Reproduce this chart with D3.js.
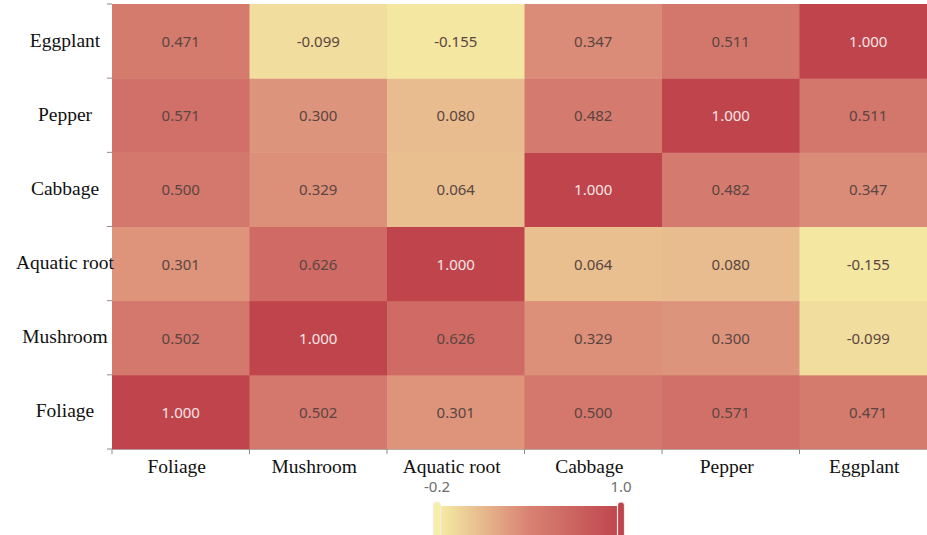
<!DOCTYPE html>
<html><head><meta charset="utf-8">
<script src="https://cdn.jsdelivr.net/npm/d3@7"></script>
<style>html,body{margin:0;padding:0;background:#fff;overflow:hidden}</style>
</head><body>
<svg id="chart" width="927" height="535"></svg>
<script>
const categories = ["Foliage", "Mushroom", "Aquatic root", "Cabbage", "Pepper", "Eggplant"];
const rowFoliage     = [1.000, 0.502, 0.301, 0.500, 0.571, 0.471];
const rowMushroom    = [0.502, 1.000, 0.626, 0.329, 0.300, -0.099];
const rowAquaticRoot = [0.301, 0.626, 1.000, 0.064, 0.080, -0.155];
const rowCabbage     = [0.500, 0.329, 0.064, 1.000, 0.482, 0.347];
const rowPepper      = [0.571, 0.300, 0.080, 0.482, 1.000, 0.511];
const rowEggplant    = [0.471, -0.099, -0.155, 0.347, 0.511, 1.000];
const rows = [rowFoliage, rowMushroom, rowAquaticRoot, rowCabbage, rowPepper, rowEggplant];
const colorStops = ["#f6efa6", "#d88273", "#bf444c"];
const colorMin = -0.2, colorMax = 1.0;
const colorLabels = ["-0.2", "1.0"];

const svg = d3.select("#chart");
const plotLeft = 112, plotRight = 937, plotTop = 4, plotBottom = 449;
const fmt = d3.formatLocale({decimal: ".", thousands: ",", grouping: [3], currency: ["", ""], minus: "-"}).format(".3f");

const x = d3.scaleBand().domain(categories).range([plotLeft, plotRight]);
const y = d3.scaleBand().domain(categories).range([plotBottom, plotTop]);
const color = d3.scaleLinear().domain([colorMin, (colorMin + colorMax) / 2, colorMax]).range(colorStops).interpolate(d3.interpolateRgb);

const cells = [];
rows.forEach((r, i) => r.forEach((v, j) => cells.push({row: categories[i], col: categories[j], v})));

const g = svg.append("g");
g.selectAll("rect.cell").data(cells).join("rect").attr("class", "cell")
  .attr("x", d => x(d.col)).attr("y", d => y(d.row))
  .attr("width", x.bandwidth() + 0.5).attr("height", y.bandwidth() + 0.5)
  .attr("fill", d => color(d.v));

g.selectAll("text.val").data(cells).join("text").attr("class", "val")
  .attr("x", d => x(d.col) + x.bandwidth() / 2)
  .attr("y", d => y(d.row) + y.bandwidth() / 2)
  .attr("text-anchor", "middle").attr("dominant-baseline", "central")
  .style("font-family", "'Noto Sans', 'Open Sans', sans-serif").style("font-size", "15px")
  .attr("fill", d => d.v >= 0.95 ? "#f6e6e6" : "#5a4540")
  .text(d => fmt(d.v));

// axes: ticks at band boundaries
const axisColor = "#8a8c94";
const xb = categories.map(c => x(c)).concat([plotRight]);
const yb = categories.map(c => y(c) + y.bandwidth()).concat([plotTop]);
svg.append("line").attr("x1", plotLeft).attr("x2", 927).attr("y1", plotBottom + 0.5).attr("y2", plotBottom + 0.5).attr("stroke", axisColor).attr("stroke-width", 1).attr("opacity", 0.5);
svg.selectAll("line.xt").data(xb).join("line").attr("class", "xt")
  .attr("x1", d => d).attr("x2", d => d).attr("y1", plotBottom).attr("y2", plotBottom + 5)
  .attr("stroke", axisColor);
svg.selectAll("line.yt").data(yb).join("line").attr("class", "yt")
  .attr("x1", plotLeft - 5).attr("x2", plotLeft).attr("y1", d => d).attr("y2", d => d)
  .attr("stroke", axisColor);

svg.selectAll("text.xl").data(categories).join("text").attr("class", "xl")
  .attr("x", d => x(d) + x.bandwidth() / 2 - 4).attr("y", 466)
  .attr("text-anchor", "middle").attr("dominant-baseline", "central")
  .style("font-family", "'Liberation Serif', 'Times New Roman', serif").style("font-size", "19.5px")
  .attr("fill", "#111").text(d => d);

svg.selectAll("text.yl").data(categories).join("text").attr("class", "yl")
  .attr("x", 65).attr("y", d => y(d) + y.bandwidth() / 2 - 1)
  .attr("text-anchor", "middle").attr("dominant-baseline", "central")
  .style("font-family", "'Liberation Serif', 'Times New Roman', serif").style("font-size", "19.5px")
  .attr("fill", "#111").text(d => d);

// visual map (color bar)
const barX0 = 437, barX1 = 621, barY = 506, barH = 32;
const defs = svg.append("defs");
const grad = defs.append("linearGradient").attr("id", "cg");
colorStops.forEach((c, i) => grad.append("stop").attr("offset", (i / (colorStops.length - 1) * 100) + "%").attr("stop-color", c));
const barScale = d3.scaleLinear().domain([colorMin, colorMax]).range([barX0, barX1]);
svg.append("rect").attr("x", barScale(colorMin)).attr("y", barY).attr("width", barScale(colorMax) - barScale(colorMin)).attr("height", barH).attr("fill", "url(#cg)");
[colorMin, colorMax].forEach(v => {
  svg.append("rect").attr("x", barScale(v) - 3.5).attr("y", barY - 4).attr("width", 7).attr("height", barH + 8)
    .attr("rx", 3.5).attr("fill", color(v)).attr("stroke", "#fbe9e4").attr("stroke-width", 1.2);
});
svg.selectAll("text.cl").data([colorMin, colorMax]).join("text").attr("class", "cl")
  .attr("x", d => barScale(d)).attr("y", 486)
  .attr("text-anchor", "middle").attr("dominant-baseline", "central")
  .style("font-family", "'Noto Sans', 'Open Sans', sans-serif").style("font-size", "15px")
  .attr("fill", "#6e6e6e").text((d, i) => colorLabels[i]);
</script>
</body></html>
